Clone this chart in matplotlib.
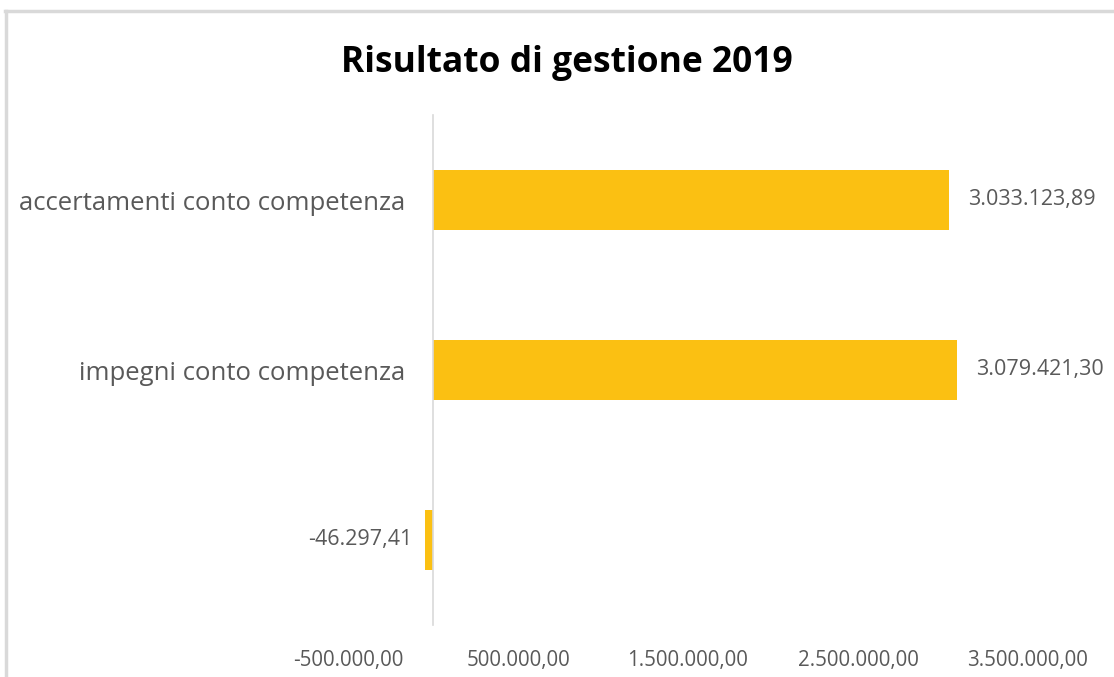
import matplotlib.pyplot as plt
from matplotlib.lines import Line2D
from matplotlib.ticker import FixedLocator, FuncFormatter

categories = ["accertamenti conto competenza", "impegni conto competenza", ""]
values = [3033123.89, 3079421.30, -46297.41]
tick_values = [-500000, 500000, 1500000, 2500000, 3500000]


def it_format(v, pos=None):
    s = f"{abs(v):,.2f}".replace(",", "X").replace(".", ",").replace("X", ".")
    return ("-" if v < 0 else "") + s


bar_color = "#FBC012"
text_color = "#595959"

fig = plt.figure(figsize=(11.14, 6.77), dpi=100)
ax = fig.add_axes([348 / 1114, 1 - 625 / 677, (1028 - 348) / 1114, (625 - 115) / 677])

pos = list(range(len(categories)))
ax.barh(pos, values, height=0.35, color=bar_color)
ax.set_ylim(2.5, -0.5)
ax.set_xlim(-500000, 3500000)

for p, v in zip(pos, values):
    if v >= 0:
        ax.annotate(it_format(v), (v, p), xytext=(14, 0), textcoords="offset points",
                    ha="left", va="center", fontsize=15.5, color=text_color,
                    family=["Open Sans", "DejaVu Sans"])
    else:
        ax.annotate(it_format(v), (v, p), xytext=(-9, 0), textcoords="offset points",
                    ha="right", va="center", fontsize=15.5, color=text_color,
                    family=["Open Sans", "DejaVu Sans"])

for s in ["top", "right", "bottom"]:
    ax.spines[s].set_visible(False)
ax.spines["left"].set_position(("data", 0))
ax.spines["left"].set_color("#D9D9D9")
ax.spines["left"].set_linewidth(1.2)

ax.set_yticks(pos)
ax.set_yticklabels(categories, fontsize=18.5, color=text_color, family=["Open Sans", "DejaVu Sans"])
ax.tick_params(axis="y", length=0, pad=20)

ax.xaxis.set_major_locator(FixedLocator(tick_values))
ax.xaxis.set_major_formatter(FuncFormatter(it_format))
ax.tick_params(axis="x", length=0, pad=18, labelsize=14.8, labelcolor=text_color)
for lbl in ax.get_xticklabels():
    lbl.set_family(["Liberation Sans Narrow", "Open Sans", "DejaVu Sans"])

fig.text(567 / 1114, 1 - 63 / 677, "Risultato di gestione 2019", ha="center", va="center",
         fontsize=25.5, fontweight="bold", color="black", family=["Open Sans", "DejaVu Sans"])

# chart frame: top and left edges only
fig.add_artist(Line2D([5 / 1114, 1], [1 - 11 / 677, 1 - 11 / 677], transform=fig.transFigure,
                      color="#D9D9D9", linewidth=2.5))
fig.add_artist(Line2D([6 / 1114, 6 / 1114], [0, 1 - 11 / 677], transform=fig.transFigure,
                      color="#D9D9D9", linewidth=2.5))

fig.savefig("out.png", dpi=100)
